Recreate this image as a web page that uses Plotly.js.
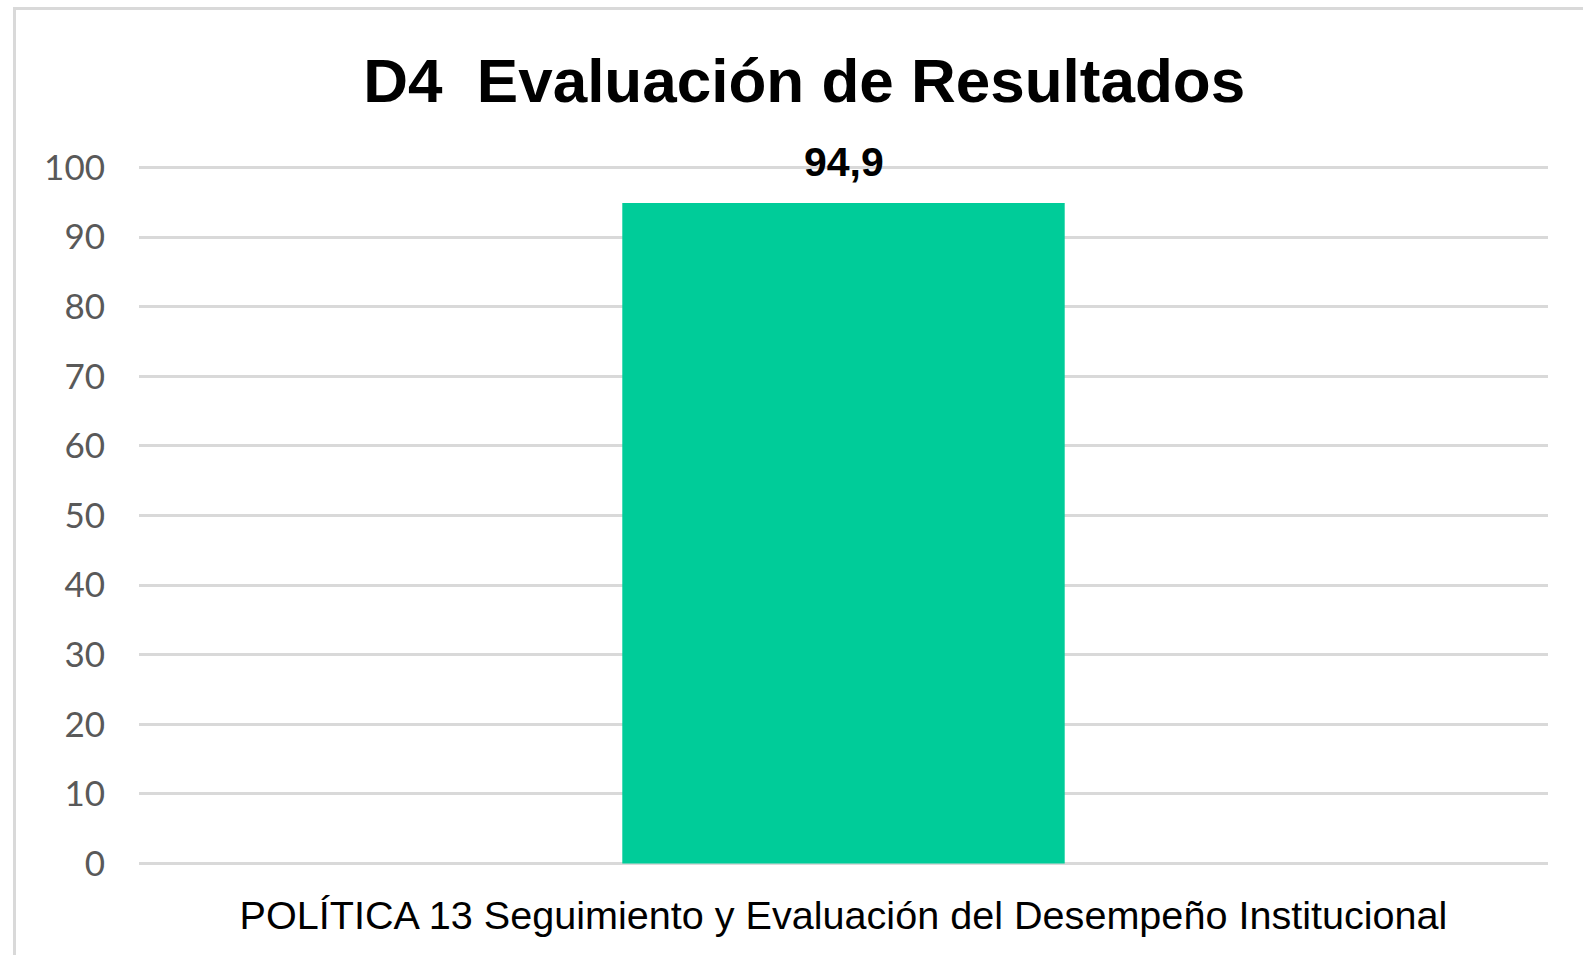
<!DOCTYPE html>
<html>
<head>
<meta charset="utf-8">
<script src="https://cdn.plot.ly/plotly-3.0.1.min.js"></script>
<style>
html,body{margin:0;padding:0;background:#fff;overflow:hidden;}
#chart{width:1583px;height:955px;position:absolute;left:0;top:0;}
#frame{position:absolute;left:13px;top:7px;width:1700px;height:1100px;border:3px solid #d9d9d9;pointer-events:none;}
</style>
</head>
<body>
<div id="chart"></div>
<div id="frame"></div>
<script>
const categories = ["POLÍTICA 13 Seguimiento y Evaluación del Desempeño Institucional"];
const values = [94.9];
const yTickVals = [0,10,20,30,40,50,60,70,80,90,100];
const titleText = "D4\u00a0 Evaluación de Resultados";

const fmt = v => v.toFixed(1).replace('.', ',');

const trace = {
  type: 'bar',
  x: categories,
  y: values,
  marker: {color: '#00CC99'},
  hoverinfo: 'none'
};

const layout = {
  width: 1583,
  height: 955,
  paper_bgcolor: 'rgba(0,0,0,0)',
  plot_bgcolor: 'rgba(0,0,0,0)',
  margin: {l: 139, r: 35, t: 163.5, b: 87.5},
  bargap: 0.686,
  showlegend: false,
  title: {
    text: titleText,
    font: {family: 'Liberation Sans, Arial, sans-serif', size: 62, color: '#000', weight: 'bold'},
    xref: 'container', yref: 'container',
    x: 0.508, xanchor: 'center',
    y: 0.916, yanchor: 'middle'
  },
  xaxis: {
    type: 'category',
    showgrid: false,
    zeroline: false,
    showline: false,
    ticks: '',
    ticklabelstandoff: 21,
    tickfont: {family: 'Liberation Sans, Arial, sans-serif', size: 39.6, color: '#000'}
  },
  yaxis: {
    range: [-0.5, 100.5],
    tickvals: yTickVals,
    ticktext: yTickVals.map(String),
    showgrid: true,
    gridcolor: '#d9d9d9',
    gridwidth: 3,
    zeroline: false,
    showline: false,
    ticks: '',
    ticklabelstandoff: 33,
    tickfont: {family: 'Lato, sans-serif', size: 35, color: '#595959'}
  },
  annotations: categories.map((c, i) => ({
    x: c, y: values[i], xref: 'x', yref: 'y',
    text: fmt(values[i]),
    showarrow: false,
    yanchor: 'middle', xanchor: 'center',
    yshift: 40.5,
    font: {family: 'Liberation Sans, Arial, sans-serif', size: 41, color: '#000', weight: 'bold'}
  }))
};

Plotly.newPlot('chart', [trace], layout, {displayModeBar: false, staticPlot: true});
</script>
</body>
</html>
